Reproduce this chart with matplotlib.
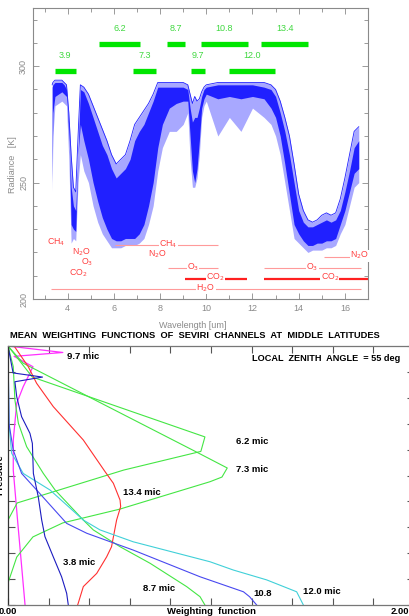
import matplotlib
matplotlib.use('Agg')
import matplotlib.pyplot as plt

plt.rcParams['font.family'] = ['Liberation Sans', 'DejaVu Sans']

# ---- top panel: simulated spectrum (envelope) ----
wl = [3.33, 3.36, 3.45, 3.6, 3.75, 3.85, 3.95, 4.05, 4.15, 4.25, 4.35, 4.45, 4.55, 4.7, 4.9,
      5.1, 5.3, 5.5, 5.7, 5.9, 6.1, 6.3, 6.5, 6.7, 6.9, 7.1, 7.3, 7.5, 7.7, 7.9,
      8.1, 8.4, 8.7, 9.0, 9.2, 9.3, 9.4, 9.5, 9.6, 9.7, 9.8, 9.9, 10.0, 10.5, 11.0,
      11.5, 12.0, 12.5, 12.8, 13.0, 13.2, 13.4, 13.6, 13.8, 14.0, 14.2, 14.4, 14.6, 14.8,
      15.0, 15.2, 15.4, 15.6, 15.8, 16.0, 16.2, 16.4, 16.6]
bt_hi = [292, 293, 294, 294, 294, 293, 292, 280, 262, 248, 246, 270, 292, 291, 288,
         283, 278, 273, 268, 262, 258, 260, 262, 268, 275, 278, 281, 284, 288, 293,
         293, 293, 293, 293, 292, 288, 284, 287, 285, 286, 289, 291, 292, 293, 293,
         293, 293, 293, 292, 290, 285, 278, 270, 258, 245, 238, 234, 233, 234,
         236, 237, 236, 237, 243, 252, 262, 272, 274]
bt_lo = [246, 270, 283, 284, 285, 284, 283, 260, 224, 226, 225, 250, 262, 255, 250,
         240, 233, 228, 225, 222, 222, 222, 223, 223, 223, 224, 226, 232, 240, 255,
         265, 272, 272, 275, 280, 260, 248, 248, 252, 262, 278, 283, 285, 270, 278,
         272, 282, 278, 275, 270, 262, 250, 238, 226, 224, 222, 220, 221, 221,
         221, 222, 222, 223, 228, 232, 240, 248, 250]
core_hi = [291, 292, 293, 293, 293, 292, 290, 270, 248, 240, 238, 262, 290, 289, 284,
           278, 272, 266, 262, 256, 252, 254, 256, 260, 268, 272, 275, 280, 285, 291,
           291, 291, 291, 291, 290, 282, 276, 278, 278, 282, 287, 290, 291, 292, 292,
           292, 292, 291, 290, 287, 280, 272, 262, 250, 238, 233, 231, 231, 232,
           233, 234, 233, 234, 238, 246, 255, 265, 268]
core_lo = [250, 280, 287, 288, 289, 288, 287, 275, 232, 230, 229, 262, 275, 268, 260,
           250, 242, 235, 230, 226, 225, 225, 226, 226, 226, 228, 232, 240, 250, 265,
           275, 282, 284, 285, 285, 270, 255, 250, 256, 268, 282, 286, 288, 286, 287,
           286, 287, 286, 282, 278, 270, 258, 245, 232, 228, 225, 223, 223, 224,
           224, 225, 225, 226, 232, 238, 246, 254, 256]

# SEVIRI channels: name, start, end, row (radiance level)
ch_names = ['3.9', '6.2', '7.3', '8.7', '9.7', '10.8', '12.0', '13.4']
ch_lo = [3.47, 5.34, 6.83, 8.29, 9.34, 9.79, 10.99, 12.39]
ch_hi = [4.36, 7.15, 7.84, 9.10, 9.94, 11.79, 12.98, 14.39]
ch_row = [298, 309.5, 298, 309.5, 298, 309.5, 298, 309.5]

# absorber lines: label, start, end, level, label position, thick
gas_lab = [r'CH$_4$', r'N$_2$O', r'O$_3$', r'CO$_2$', r'CH$_4$', r'N$_2$O', r'O$_3$',
           r'CO$_2$', r'H$_2$O', r'O$_3$', r'CO$_2$', r'N$_2$O']
gas_x0 = [None, None, None, None, 6.04, 7.55, 8.35, 9.07, 3.3, 12.5, 12.5, 15.1]
gas_x1 = [None, None, None, None, 10.5, 8.2, 10.5, 11.77, 16.7, 16.7, 17.0, 16.3]
gas_y = [224, 219.6, 215.3, 210.6, 223.3, 218.8, 213.4, 208.8, 204.2, 213.4, 208.8, 218.2]
gas_lx = [3.5, 4.6, 4.85, 4.45, 8.35, 7.87, 9.43, 10.4, 9.98, 14.6, 15.35, 16.65]
gas_thick = [False, False, False, False, False, False, False, True, False, False, True, False]

# ---- bottom panel: weighting functions (weight, level) ----
wf_38_w = [0.0, 0.025, 0.17, 0.034, 0.043, 0.067, 0.108, 0.12, 0.125, 0.149, 0.166, 0.182, 0.223, 0.264, 0.289, 0.297]
wf_38_z = [10.0, 8.96, 8.8, 8.62, 8.04, 7.27, 6.63, 6.24, 5.08, 4.18, 3.28, 2.64, 1.86, 1.09, 0.45, 0.0]
wf_62_w = [0.0, 0.12, 0.97, 0.95, 0.57, 0.14, 0.045, 0.0, 0.0]
wf_62_z = [10.0, 8.8, 6.49, 5.93, 5.21, 4.17, 3.94, 3.28, 0.0]
wf_73_w = [0.0, 0.074, 0.93, 1.08, 1.054, 0.995, 0.55, 0.27, 0.123, 0.043, 0.0, 0.0]
wf_73_z = [10.0, 9.34, 5.9, 5.29, 4.94, 4.76, 3.7, 3.17, 2.63, 1.85, 0.85, 0.0]
wf_87_w = [0.0, 0.026, 0.034, 0.051, 0.092, 0.174, 0.232, 0.371, 0.42, 0.552, 0.70, 0.88, 0.946, 0.97]
wf_87_z = [10.0, 9.2, 7.92, 7.02, 6.11, 5.08, 4.44, 3.28, 2.9, 2.25, 1.61, 0.71, 0.32, 0.0]
wf_97_w = [0.0, 0.27, 0.03, 0.123, 0.075, 0.043, 0.026, 0.026, 0.047, 0.084]
wf_97_z = [10.0, 9.75, 9.6, 9.2, 8.43, 7.79, 6.37, 5.2, 3.28, 0.0]
wf_108_w = [0.0, 0.005, 0.026, 0.067, 0.141, 0.289, 0.388, 0.617, 0.946, 1.16, 1.19, 1.225]
wf_108_z = [10.0, 7.0, 5.98, 5.08, 4.44, 3.15, 2.77, 2.12, 1.09, 0.51, 0.32, 0.0]
wf_120_w = [0.0, 0.005, 0.018, 0.075, 0.207, 0.371, 0.453, 0.617, 0.995, 1.11, 1.274, 1.422, 1.455]
wf_120_z = [10.0, 7.0, 5.86, 5.08, 4.44, 3.28, 2.9, 2.44, 1.67, 1.35, 0.97, 0.51, 0.0]
wf_134_w = [0.03, 0.10, 0.141, 0.223, 0.371, 0.478, 0.519, 0.552, 0.555, 0.535, 0.51, 0.486, 0.437, 0.371, 0.346, 0.343]
wf_134_z = [10.0, 9.2, 8.56, 7.66, 6.37, 5.15, 4.7, 4.05, 3.8, 3.28, 2.25, 1.86, 1.22, 0.71, 0.07, 0.0]

wf_labels = ['9.7 mic', '6.2 mic', '7.3 mic', '13.4 mic', '3.8 mic', '8.7 mic', '10.8', '12.0 mic']
wf_lab_x = [0.29, 1.125, 1.125, 0.567, 0.27, 0.665, 1.207, 1.452]
wf_lab_z = [9.6, 6.3, 5.25, 4.35, 1.63, 0.62, 0.46, 0.51]

W, H = 410, 616
fig = plt.figure(figsize=(W / 100, H / 100), dpi=100)

grey = '#8a8a8a'
ax = fig.add_axes([33 / W, 1 - 299 / H, 335 / W, 291 / H])
ax.fill_between(wl, bt_lo, bt_hi, color='#a8a8ff', lw=0)
ax.fill_between(wl, core_lo, core_hi, color='#2020ff', lw=0)
ax.plot(wl, bt_hi, color='#2020ff', lw=0.6)

for n, a, b, r in zip(ch_names, ch_lo, ch_hi, ch_row):
    ax.plot([a, b], [r, r], color='#00e600', lw=3.8, solid_capstyle='butt')
    ax.text((a + b) / 2 if n != '3.9' else 3.9, r + 6.5, n, color='#40d840',
            fontsize=6.5, ha='center', va='center')

for lab, x0, x1, y, lx, th in zip(gas_lab, gas_x0, gas_x1, gas_y, gas_lx, gas_thick):
    if x0 is not None:
        ax.plot([x0, x1], [y, y], color='#ff2020' if th else '#ff9a9a',
                lw=1.6 if th else 0.8, solid_capstyle='butt')
    ax.text(lx, y + 0.4, lab, color='#ff4040', fontsize=6.3, ha='center', va='center',
            bbox=dict(facecolor='white', edgecolor='none', pad=0.2))

ax.set_xlim(2.5, 17)
ax.set_ylim(200, 325)
ax.set_xticks([4, 6, 8, 10, 12, 14, 16])
ax.set_xticks([3, 5, 7, 9, 11, 13, 15, 17], minor=True)
ax.set_yticks([200, 250, 300])
ax.set_yticks(range(210, 330, 10), minor=True)
ax.tick_params(which='both', direction='in', top=True, right=True, color=grey,
               labelcolor=grey, labelsize=6.5, width=0.6)
ax.tick_params(which='major', length=4)
ax.tick_params(which='minor', length=3)
for t in ax.get_yticklabels():
    t.set_rotation(90)
    t.set_va('center')
for s in ax.spines.values():
    s.set_color(grey)
    s.set_linewidth(0.8)
fig.text(13 / W, 1 - 165 / H, 'Radiance   [K]', rotation=90, color=grey, fontsize=6.5,
         ha='center', va='center')
fig.text(193 / W, 1 - 326 / H, 'Wavelength [um]', color=grey, fontsize=6.5,
         ha='center', va='center')

# ---- bottom panel ----
fig.text(10 / W, 1 - 336 / H, 'MEAN  WEIGHTING  FUNCTIONS  OF  SEVIRI  CHANNELS  AT  MIDDLE  LATITUDES',
         fontsize=6.7, fontweight='bold', ha='left', va='center')

bx = fig.add_axes([8 / W, 1 - 605 / H, 406 / W, 259 / H])
bx.plot(wf_97_w, wf_97_z, color='#ff30ff', lw=0.9)
bx.plot(wf_62_w, wf_62_z, color='#44e644', lw=0.8)
bx.plot(wf_73_w, wf_73_z, color='#44e644', lw=0.8)
bx.plot(wf_87_w, wf_87_z, color='#44e644', lw=0.8)
bx.plot(wf_134_w, wf_134_z, color='#ff3030', lw=0.8)
bx.plot(wf_120_w, wf_120_z, color='#40d0d8', lw=0.8)
bx.plot(wf_108_w, wf_108_z, color='#4848f0', lw=0.8)
bx.plot(wf_38_w, wf_38_z, color='#1c1cc0', lw=0.8)

for lab, x, z in zip(wf_labels, wf_lab_x, wf_lab_z):
    bx.text(x, z, lab, fontsize=6.8, fontweight='bold', ha='left', va='center')
bx.text(1.203, 9.5, 'LOCAL  ZENITH  ANGLE  = 55 deg', fontsize=6.6, fontweight='bold',
        ha='left', va='center')

bx.set_xlim(0, 2.0)
bx.set_ylim(0, 10)
bx.set_xticks([0.2 * i for i in range(11)])
bx.set_yticks(range(11))
bx.set_xticklabels([])
bx.set_yticklabels([])
bx.tick_params(direction='in', top=True, right=True, length=5, width=0.8, color='#555555')
for s in bx.spines.values():
    s.set_color('#777777')
    s.set_linewidth(0.9)
bx.spines['left'].set_color('#333333')

fig.text(8 / W, 1 - 611 / H, '0.00', fontsize=6.8, fontweight='bold', ha='center', va='center')
fig.text(409 / W, 1 - 611 / H, '2.00', fontsize=6.8, fontweight='bold', ha='right', va='center')
fig.text(212 / W, 1 - 612 / H, 'Weighting  function', fontsize=6.8, fontweight='bold',
         ha='center', va='center')
fig.text(0.0, 1 - 475 / H, 'Pressure', fontsize=6.8, fontweight='bold', rotation=90,
         ha='center', va='center')

fig.savefig('out.png', dpi=100)
